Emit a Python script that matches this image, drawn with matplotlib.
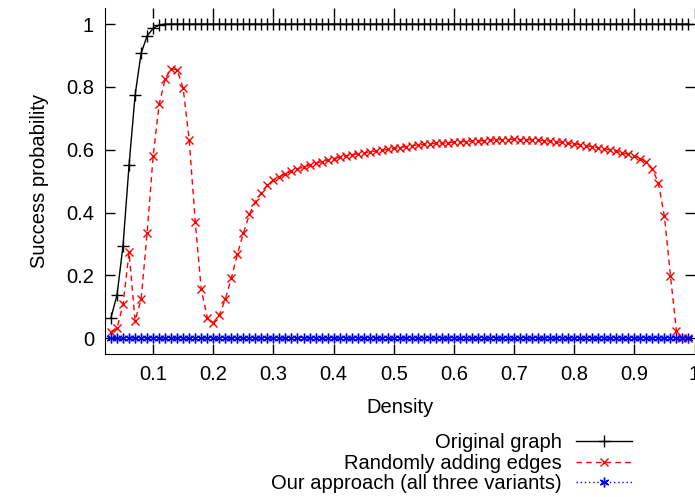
import numpy as np
import matplotlib
matplotlib.use("Agg")
import matplotlib.pyplot as plt

plt.rcParams['font.family'] = ['Liberation Sans', 'DejaVu Sans']

# density grid, one sample every 0.01
density = np.round(np.arange(0.03, 0.995, 0.01), 2)

# original graph: rises fast, then saturates at 1
original = [0.066, 0.138, 0.295, 0.551, 0.773, 0.907, 0.962, 0.986, 0.997] + [1.0] * 88

# randomly adding edges
random_edges = [
    0.021, 0.032, 0.109, 0.273, 0.056, 0.124, 0.334, 0.580, 0.744, 0.825,
    0.858, 0.854, 0.795, 0.631, 0.371, 0.156, 0.066, 0.050, 0.074, 0.124,
    0.191, 0.267, 0.334, 0.394, 0.435, 0.463, 0.487, 0.504, 0.514, 0.524,
    0.532, 0.539, 0.545, 0.551, 0.557, 0.562, 0.567, 0.572, 0.576, 0.580,
    0.584, 0.587, 0.590, 0.593, 0.596, 0.598, 0.601, 0.604, 0.607, 0.610,
    0.613, 0.615, 0.617, 0.619, 0.620, 0.621, 0.622, 0.624, 0.625, 0.626,
    0.627, 0.628, 0.629, 0.630, 0.631, 0.632, 0.632, 0.633, 0.632, 0.632,
    0.631, 0.630, 0.629, 0.627, 0.625, 0.623, 0.621, 0.619, 0.616, 0.613,
    0.610, 0.607, 0.603, 0.599, 0.595, 0.590, 0.586, 0.581, 0.572, 0.560,
    0.540, 0.493, 0.388, 0.199, 0.024, 0.0, 0.0,
]

# our approach never succeeds
ours = [0.0] * 97

xticks = [0.1, 0.2, 0.3, 0.4, 0.5, 0.6, 0.7, 0.8, 0.9, 1.0]
xticklabels = ['0.1', '0.2', '0.3', '0.4', '0.5', '0.6', '0.7', '0.8', '0.9', '1']
yticks = [0, 0.2, 0.4, 0.6, 0.8, 1.0]
yticklabels = ['0', '0.2', '0.4', '0.6', '0.8', '1']

W, H = 695, 497
fig = plt.figure(figsize=(W / 100, H / 100), dpi=100)
# axes box in pixels: left 105, right 694.5, top 8.3, bottom 354
ax = fig.add_axes([105 / W, (H - 354) / H, (694.5 - 105) / W, (354 - 8.3) / H])

ax.plot(density, original, color='black', lw=1, marker='+', ms=8, mew=1,
        label='Original graph')
ax.plot(density, random_edges, color='#ff0000', lw=1, ls=(0, (4, 3)), marker='x',
        ms=6, mew=1, label='Randomly adding edges')
ax.plot(density, ours, color='#0000ff', lw=1, ls=(0, (1, 2)), marker=(6, 2, 0),
        ms=7, mew=1, label='Our approach (all three variants)')

ax.set_xlim(0.02, 1.0)
ax.set_ylim(-0.05, 1.05)
ax.set_xticks(xticks)
ax.set_xticklabels(xticklabels)
ax.set_yticks(yticks)
ax.set_yticklabels(yticklabels)

ax.spines['top'].set_visible(False)
ax.spines['right'].set_visible(False)
ax.tick_params(direction='in', length=7, width=1, labelsize=14.5, pad=8,
               top=True, right=True)

ax.set_xlabel('Density', fontsize=14.5, labelpad=10)
ax.set_ylabel('Success probability', fontsize=14.5, labelpad=12)

leg = fig.legend(loc='upper right', bbox_to_anchor=(632 / W, (H - 433) / H),
                 markerfirst=False, frameon=False, fontsize=14.5,
                 handlelength=2.8, handletextpad=0.7, labelspacing=0.08,
                 borderpad=0, borderaxespad=0)

fig.savefig('out.png', dpi=100)
